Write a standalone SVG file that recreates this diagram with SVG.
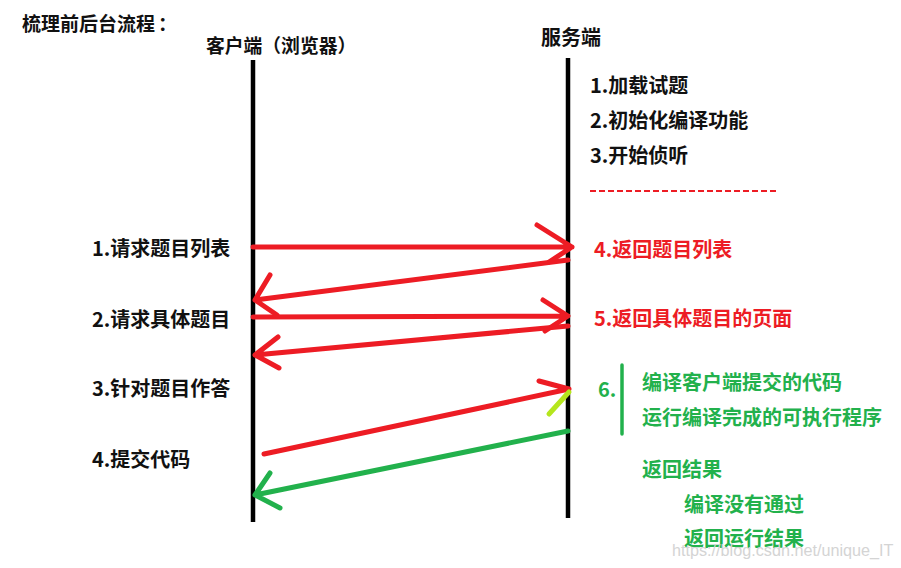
<svg xmlns="http://www.w3.org/2000/svg" width="901" height="568" viewBox="0 0 901 568">
<style>
.t{font-family:"Noto Sans CJK SC","Microsoft YaHei",sans-serif;font-weight:bold;font-size:20px}
.k{fill:#111}
.r{fill:#ed1c24}
.g{fill:#22b14c}
.life{stroke:#000;stroke-width:4.5;fill:none}
.ar{stroke:#ed1c24;stroke-width:5;stroke-linecap:round;stroke-linejoin:round;fill:none}
.ag{stroke:#22b14c;stroke-width:5;stroke-linecap:round;stroke-linejoin:round;fill:none}
</style>
<rect width="901" height="568" fill="#fff"/>
<text class="t k" x="22" y="31" style="font-size:19px">梳理前后台流程<tspan dx="3">：</tspan></text>
<g id="client">
<text class="t k" x="206" y="53" style="font-size:18.8px">客户端（浏览器）</text>
<line class="life" x1="253" y1="60" x2="253" y2="522"/>
<text class="t k" x="92" y="256">1.请求题目列表</text>
<text class="t k" x="92" y="327">2.请求具体题目</text>
<text class="t k" x="92" y="396">3.针对题目作答</text>
<text class="t k" x="92" y="467">4.提交代码</text>
</g>
<g id="server">
<text class="t k" x="541" y="45">服务端</text>
<line class="life" x1="568" y1="58" x2="568" y2="518"/>
<text class="t k" x="590" y="93">1.加载试题</text>
<text class="t k" x="590" y="128">2.初始化编译功能</text>
<text class="t k" x="590" y="163">3.开始侦听</text>
<line x1="590" y1="191" x2="776" y2="191" stroke="#ed1c24" stroke-width="2" stroke-dasharray="6,3"/>
<text class="t r" x="594" y="257">4.返回题目列表</text>
<text class="t r" x="594" y="326">5.返回具体题目的页面</text>
</g>
<g id="compile">
<text class="t g" x="598" y="397">6.</text>
<line x1="622" y1="365" x2="622" y2="434" stroke="#22b14c" stroke-width="3.5" stroke-linecap="round"/>
<text class="t g" x="642" y="390">编译客户端提交的代码</text>
<text class="t g" x="642" y="425">运行编译完成的可执行程序</text>
<text class="t g" x="642" y="477">返回结果</text>
<text class="t g" x="684" y="512">编译没有通过</text>
<text class="t g" x="684" y="546">返回运行结果</text>
</g>
<g id="connectors">
<path class="ar" d="M253,247 L572,247 M537,225 L572,247 L549,262"/>
<path class="ar" d="M568,260 L255,300 M270,275 L255,300 L277,315"/>
<path class="ar" d="M253,317 L568,316 M543,300 L568,316 L545,331"/>
<path class="ar" d="M568,326 L255,355 M278,337 L255,355 L279,368"/>
<path class="ar" d="M264,454 L569,389 M539,381 L569,389"/>
<line x1="569" y1="392" x2="549" y2="414" stroke="#b5e61d" stroke-width="5" stroke-linecap="round"/>
<path class="ag" d="M568,431 L255,495 M270,473 L255,495 L280,508"/>
</g>
<text x="672" y="556" font-family="Liberation Sans, Arial, sans-serif" font-size="16.2" fill="#d4d4d4">https://blog.csdn.net/unique_IT</text>
</svg>
